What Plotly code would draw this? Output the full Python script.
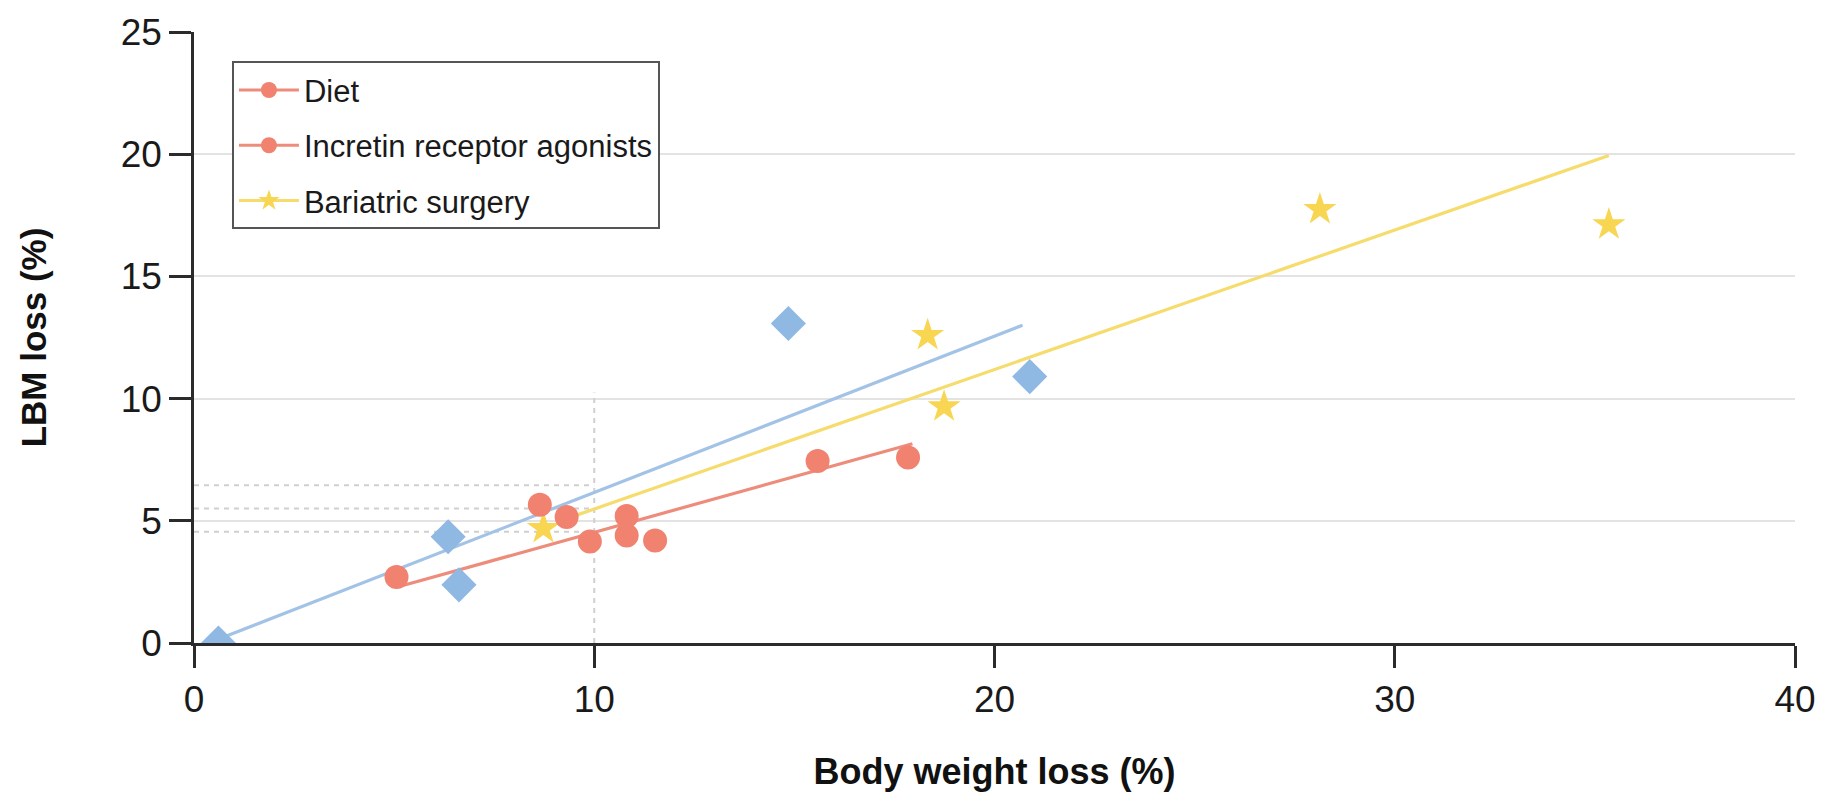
import plotly.graph_objects as go

# ---- data ----
diet_x = [5.06, 8.64, 9.31, 9.89, 10.81, 10.81, 11.52, 15.58, 17.84]
diet_y = [2.70, 5.66, 5.16, 4.15, 5.20, 4.40, 4.19, 7.45, 7.59]

incretin_x = [0.61, 6.35, 6.62, 14.85, 20.88]
incretin_y = [0.00, 4.35, 2.38, 13.07, 10.90]

surgery_x = [8.73, 18.33, 18.74, 28.13, 35.35]
surgery_y = [4.69, 12.59, 9.67, 17.74, 17.12]

# fitted trend lines (end points)
diet_fit_x = [5.15, 17.95]
diet_fit_y = [2.32, 8.15]
incretin_fit_x = [0.60, 20.70]
incretin_fit_y = [0.15, 13.00]
surgery_fit_x = [9.40, 35.35]
surgery_fit_y = [5.14, 19.95]

# dotted reference lines
ref_v_x = [10, 10]
ref_v_y = [0, 10.25]
ref_h_levels = [6.45, 5.50, 4.55]
ref_h_x = [0, 10]

x_ticks = [0, 10, 20, 30, 40]
y_ticks = [0, 5, 10, 15, 20, 25]

legend_names = ["Diet", "Incretin receptor agonists", "Bariatric surgery"]

# ---- styles ----
SALMON = "#F0826F"
SALMON_L = "#EE8C7C"
BLUE = "#8FB8E3"
BLUE_L = "#A2C3E6"
YELLOW = "#F8D652"
YELLOW_L = "#F6DC6C"
DOT = "#CFCFCF"

fig = go.Figure()

# dotted reference lines
fig.add_trace(go.Scatter(x=ref_v_x, y=ref_v_y, mode="lines",
                         line=dict(color=DOT, width=2, dash="5px,5px"),
                         showlegend=False, hoverinfo="skip"))
for lv in ref_h_levels:
    fig.add_trace(go.Scatter(x=ref_h_x, y=[lv, lv], mode="lines",
                             line=dict(color=DOT, width=2, dash="5px,5px"),
                             showlegend=False, hoverinfo="skip"))

# trend lines
fig.add_trace(go.Scatter(x=incretin_fit_x, y=incretin_fit_y, mode="lines",
                         line=dict(color=BLUE_L, width=3.2), showlegend=False))
fig.add_trace(go.Scatter(x=surgery_fit_x, y=surgery_fit_y, mode="lines",
                         line=dict(color=YELLOW_L, width=3.2), showlegend=False))
fig.add_trace(go.Scatter(x=diet_fit_x, y=diet_fit_y, mode="lines",
                         line=dict(color=SALMON_L, width=3.2), showlegend=False))

# markers
fig.add_trace(go.Scatter(x=incretin_x, y=incretin_y, mode="markers",
                         marker=dict(symbol="diamond", size=27, color=BLUE),
                         showlegend=False))
fig.add_trace(go.Scatter(x=surgery_x, y=surgery_y, mode="markers",
                         marker=dict(symbol="star", size=25, color=YELLOW),
                         showlegend=False))
fig.add_trace(go.Scatter(x=diet_x, y=diet_y, mode="markers",
                         marker=dict(symbol="circle", size=24, color=SALMON),
                         showlegend=False))

# legend entries
leg_styles = [
    (SALMON, SALMON_L, "circle"),
    (SALMON, SALMON_L, "circle"),
    (YELLOW, YELLOW_L, "star"),
]
for i, (name, (mc, lc, sym)) in enumerate(zip(legend_names, leg_styles)):
    fig.add_trace(go.Scatter(x=[None], y=[None], mode="lines+markers", name=name,
                             legendgroup="g%d" % i,
                             line=dict(color=lc, width=3),
                             marker=dict(symbol=sym, size=16, color=mc)))

fig.update_layout(
    width=1836, height=804,
    margin=dict(l=194, r=41, t=23, b=161),
    paper_bgcolor="white", plot_bgcolor="white",
    font=dict(family="Liberation Sans, Arial, sans-serif", color="#1a1a1a"),
    showlegend=True,
    legend=dict(x=0.0237, y=0.952, xanchor="left", yanchor="top",
                bordercolor="#555555", borderwidth=2, bgcolor="white",
                font=dict(size=31, color="#1a1a1a"),
                tracegroupgap=12, itemsizing="trace", itemwidth=60),
)

fig.update_xaxes(
    range=[0, 40], tickvals=x_ticks, ticktext=[str(v) for v in x_ticks],
    showgrid=False, zeroline=False,
    showline=True, linecolor="#2b2b2b", linewidth=3,
    ticks="outside", ticklen=22, tickwidth=2.5, tickcolor="#2b2b2b",
    tickfont=dict(size=37, color="#1a1a1a"),
    title=dict(text="<b>Body weight loss (%)</b>", font=dict(size=36, color="#111"), standoff=40),
)
fig.update_yaxes(
    range=[0, 25], tickvals=y_ticks, ticktext=[str(v) for v in y_ticks],
    showgrid=True, gridcolor="#E3E3E3", gridwidth=2, zeroline=False,
    showline=True, linecolor="#2b2b2b", linewidth=2.5,
    ticks="outside", ticklen=22, tickwidth=2.5, tickcolor="#2b2b2b",
    tickfont=dict(size=37, color="#1a1a1a"),
    title=dict(text="<b>LBM loss (%)</b>", font=dict(size=35, color="#111"), standoff=64),
)

fig.write_html("out.html")
